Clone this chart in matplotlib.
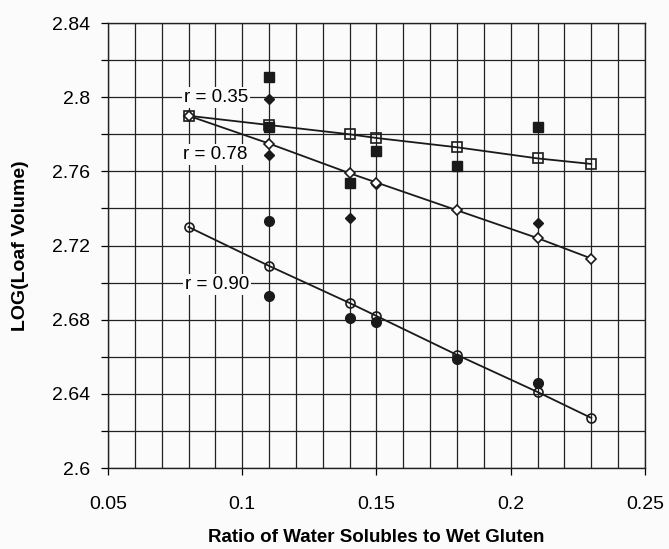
import numpy as np
import matplotlib
matplotlib.use("Agg")
import matplotlib.pyplot as plt
from matplotlib.ticker import MultipleLocator

plt.rcParams['font.family'] = ['Liberation Sans', 'DejaVu Sans']

# fitted lines (open markers)
x_fit = [0.08, 0.11, 0.14, 0.15, 0.18, 0.21, 0.23]
fit_sq = [2.790, 2.785, 2.780, 2.778, 2.773, 2.767, 2.764]
fit_di = [2.790, 2.775, 2.759, 2.754, 2.739, 2.724, 2.713]
fit_ci = [2.730, 2.709, 2.689, 2.682, 2.661, 2.641, 2.627]

# measured points (filled markers)
x_sq = [0.11, 0.11, 0.14, 0.15, 0.18, 0.21]
y_sq = [2.811, 2.784, 2.754, 2.771, 2.763, 2.784]
x_di = [0.11, 0.11, 0.14, 0.15, 0.21]
y_di = [2.799, 2.769, 2.735, 2.753, 2.732]
x_ci = [0.11, 0.11, 0.14, 0.15, 0.18, 0.21]
y_ci = [2.733, 2.693, 2.681, 2.679, 2.659, 2.646]

r_labels = ["r = 0.35", "r = 0.78", "r = 0.90"]
r_x = [0.0902, 0.0900, 0.0905]
r_y = [2.800, 2.769, 2.699]

bg = '#fbfbfb'
ink = '#1a1a1a'

fig = plt.figure(figsize=(6.69, 5.49), dpi=100, facecolor=bg)
ax = fig.add_axes([0.1614, 0.1475, 0.8027, 0.8105])
ax.set_facecolor(bg)

ax.set_xlim(0.05, 0.25)
ax.set_ylim(2.6, 2.84)
ax.xaxis.set_major_locator(MultipleLocator(0.05))
ax.xaxis.set_minor_locator(MultipleLocator(0.01))
ax.yaxis.set_major_locator(MultipleLocator(0.04))
ax.yaxis.set_minor_locator(MultipleLocator(0.02))
ax.xaxis.set_major_formatter(lambda v, p: f"{v:g}")
ax.yaxis.set_major_formatter(lambda v, p: f"{v:g}")

ax.grid(True, which='both', color='#222222', lw=0.9)
ax.set_axisbelow(True)
ax.tick_params(axis='x', which='major', direction='out', length=5, width=0.9, labelsize=14, pad=15)
ax.tick_params(axis='x', which='minor', length=0)
ax.tick_params(axis='y', which='both', direction='out', length=5, width=0.9, labelsize=14, pad=8)
for s in ax.spines.values():
    s.set_color('#222222')
    s.set_linewidth(1.0)

# filled data
ax.plot(x_sq, y_sq, ls='none', marker='s', ms=7, color=ink, zorder=3)
ax.plot(x_di, y_di, ls='none', marker='D', ms=5.5, color=ink, zorder=3)
ax.plot(x_ci, y_ci, ls='none', marker='o', ms=7, color=ink, zorder=3)

# fit lines with open markers
ax.plot(x_fit, fit_sq, color=ink, lw=1.3, marker='s', ms=7, mfc='none', mec=ink, mew=1.2, zorder=4)
ax.plot(x_fit, fit_di, color=ink, lw=1.3, marker='D', ms=5.5, mfc='white', mec=ink, mew=1.2, zorder=4)
ax.plot(x_fit, fit_ci, color=ink, lw=1.3, marker='o', ms=6.5, mfc='none', mec=ink, mew=1.2, zorder=4)

for t, xx, yy in zip(r_labels, r_x, r_y):
    ax.text(xx, yy, t, ha='center', va='center', fontsize=13.5, zorder=5,
            bbox=dict(facecolor=bg, edgecolor='none', pad=1.5))

ax.set_xlabel("Ratio of Water Solubles to Wet Gluten", fontsize=13.5, fontweight='bold', va='center')
ax.set_ylabel("LOG(Loaf Volume)", fontsize=14, fontweight='bold', va='center')
ax.xaxis.set_label_coords(0.5, -0.156)
ax.yaxis.set_label_coords(-0.162, 0.5)

fig.savefig("out.png", dpi=100, facecolor=fig.get_facecolor())
